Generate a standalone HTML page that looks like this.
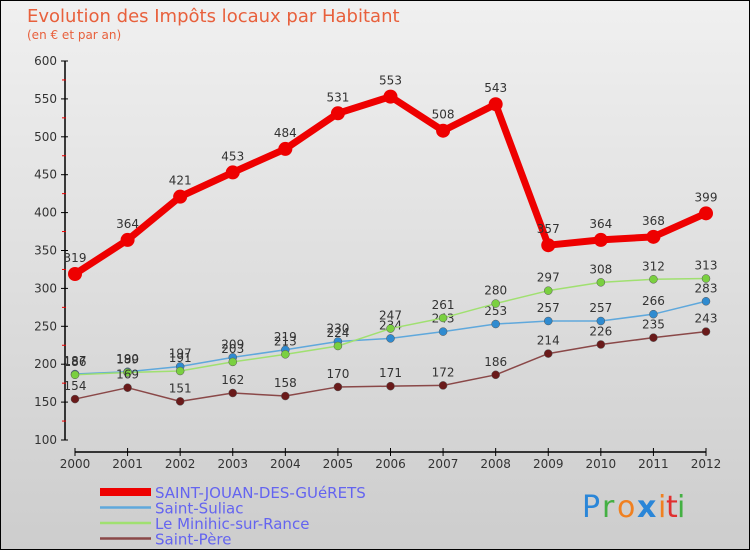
<!DOCTYPE html>
<html><head><meta charset="utf-8"><style>
body{margin:0}
#c{width:750px;height:550px;position:relative;overflow:hidden;font-family:"DejaVu Sans","Liberation Sans",sans-serif}
</style></head><body>
<div id="c">
<svg id="s" width="750" height="550" xmlns="http://www.w3.org/2000/svg">
<defs><linearGradient id="bg" x1="0" y1="0" x2="0" y2="1"><stop offset="0" stop-color="#f0f0f0"/><stop offset="1" stop-color="#cdcdcd"/></linearGradient></defs>
<rect x="0.5" y="0.5" width="749" height="549" fill="url(#bg)" stroke="#000"/>
<text x="27" y="22" font-size="18" fill="#e8603c">Evolution des Impôts locaux par Habitant</text>
<text x="27" y="39" font-size="12" fill="#e8603c">(en € et par an)</text>
<g id="axes"></g><g id="series"></g><g id="legend"></g>
<g font-size="30" font-family="DejaVu Sans,sans-serif">
<text x="582" y="517" fill="#2a86d8">P</text><text x="602" y="517" fill="#44b043">r</text><text x="617" y="517" fill="#f08020">o</text><text x="637" y="517" fill="#2a86d8" font-weight="bold">x</text><text x="658" y="517" fill="#f08020">i</text><text x="666" y="517" fill="#e03030">t</text><text x="677" y="517" fill="#44b043">i</text>
</g>
</svg>
</div>
<script>
const years=[2000,2001,2002,2003,2004,2005,2006,2007,2008,2009,2010,2011,2012];
const sjdg=[319,364,421,453,484,531,553,508,543,357,364,368,399];
const suliac=[187,190,197,209,219,230,234,243,253,257,257,266,283];
const minihic=[186,189,191,203,213,224,247,261,280,297,308,312,313];
const pere=[154,169,151,162,158,170,171,172,186,214,226,235,243];
const yTicks=[100,150,200,250,300,350,400,450,500,550,600];
const NS="http://www.w3.org/2000/svg";
const X=i=>75+i*(706-75)/12;
const Y=v=>440-(v-100)*(440-61)/500;
function mk(t,a,p){const e=document.createElementNS(NS,t);for(const k in a)e.setAttribute(k,a[k]);p.appendChild(e);return e;}
const ax=document.getElementById('axes');
let e=mk('line',{x1:65,y1:Y(600),x2:65,y2:Y(100),stroke:'#000','stroke-width':1.5},ax);

e=mk('line',{x1:X(0),y1:452,x2:X(12),y2:452,stroke:'#000','stroke-width':1.5},ax);

yTicks.forEach((v,i)=>{
 mk('line',{x1:61,y1:Y(v),x2:68,y2:Y(v),stroke:'#000'},ax);
 if(i<yTicks.length-1) mk('line',{x1:62,y1:Y(v+25),x2:66,y2:Y(v+25),stroke:'#e00'},ax);
 const t=mk('text',{x:57,y:Y(v)+4,'font-size':12,'text-anchor':'end',fill:'#333'},ax);t.textContent=v;
 
});
years.forEach((y,i)=>{
 mk('line',{x1:X(i),y1:448,x2:X(i),y2:456,stroke:'#000'},ax);
 const t=mk('text',{x:X(i),y:468,'font-size':12,'text-anchor':'middle',fill:'#333'},ax);t.textContent=y;
 
});
const sg=document.getElementById('series');
const series=[
 {n:'saint-suliac',d:suliac,c:'#5fa8dc',f:'#2f8bd0',w:1.5,r:4,name:'Saint-Suliac'},
 {n:'le-minihic',d:minihic,c:'#a0e070',f:'#7ad040',w:1.5,r:4,name:'Le Minihic-sur-Rance'},
 {n:'saint-pere',d:pere,c:'#8a4848',f:'#6a1a1a',w:1.5,r:4,name:'Saint-Père'},
 {n:'saint-jouan',d:sjdg,c:'#ee0000',f:'#ee0000',w:7,r:7,name:'SAINT-JOUAN-DES-GUéRETS'}
];
series.forEach(s=>{
 const g=mk('g',{},sg);
 const p=mk('polyline',{points:s.d.map((v,i)=>X(i)+','+Y(v)).join(' '),fill:'none',stroke:s.c,'stroke-width':s.w,'stroke-linejoin':'round'},g);
 
 s.d.forEach((v,i)=>{
  const c=mk('circle',{cx:X(i),cy:Y(v),r:s.r,fill:s.f,stroke:s.r>5?'none':'#555','stroke-width':0.5},g);
  
  const t=mk('text',{x:X(i),y:Y(v)-(s.r>5?12:9),'font-size':12,'text-anchor':'middle',fill:'#333'},g);t.textContent=v;
  
 });
});
const lg=document.getElementById('legend');
const order=[3,0,1,2];
order.forEach((k,j)=>{
 const s=series[k];const y=492+j*15.5;
 const g=mk('g',{},lg);
 mk('line',{x1:100,y1:y,x2:151,y2:y,stroke:k==3?'#ee0000':s.c,'stroke-width':k==3?8:2.5},g);
 const t=mk('text',{x:155,y:y+6,'font-size':15,fill:'#6464f0'},g);t.textContent=s.name;
});
</script>
</body></html>
